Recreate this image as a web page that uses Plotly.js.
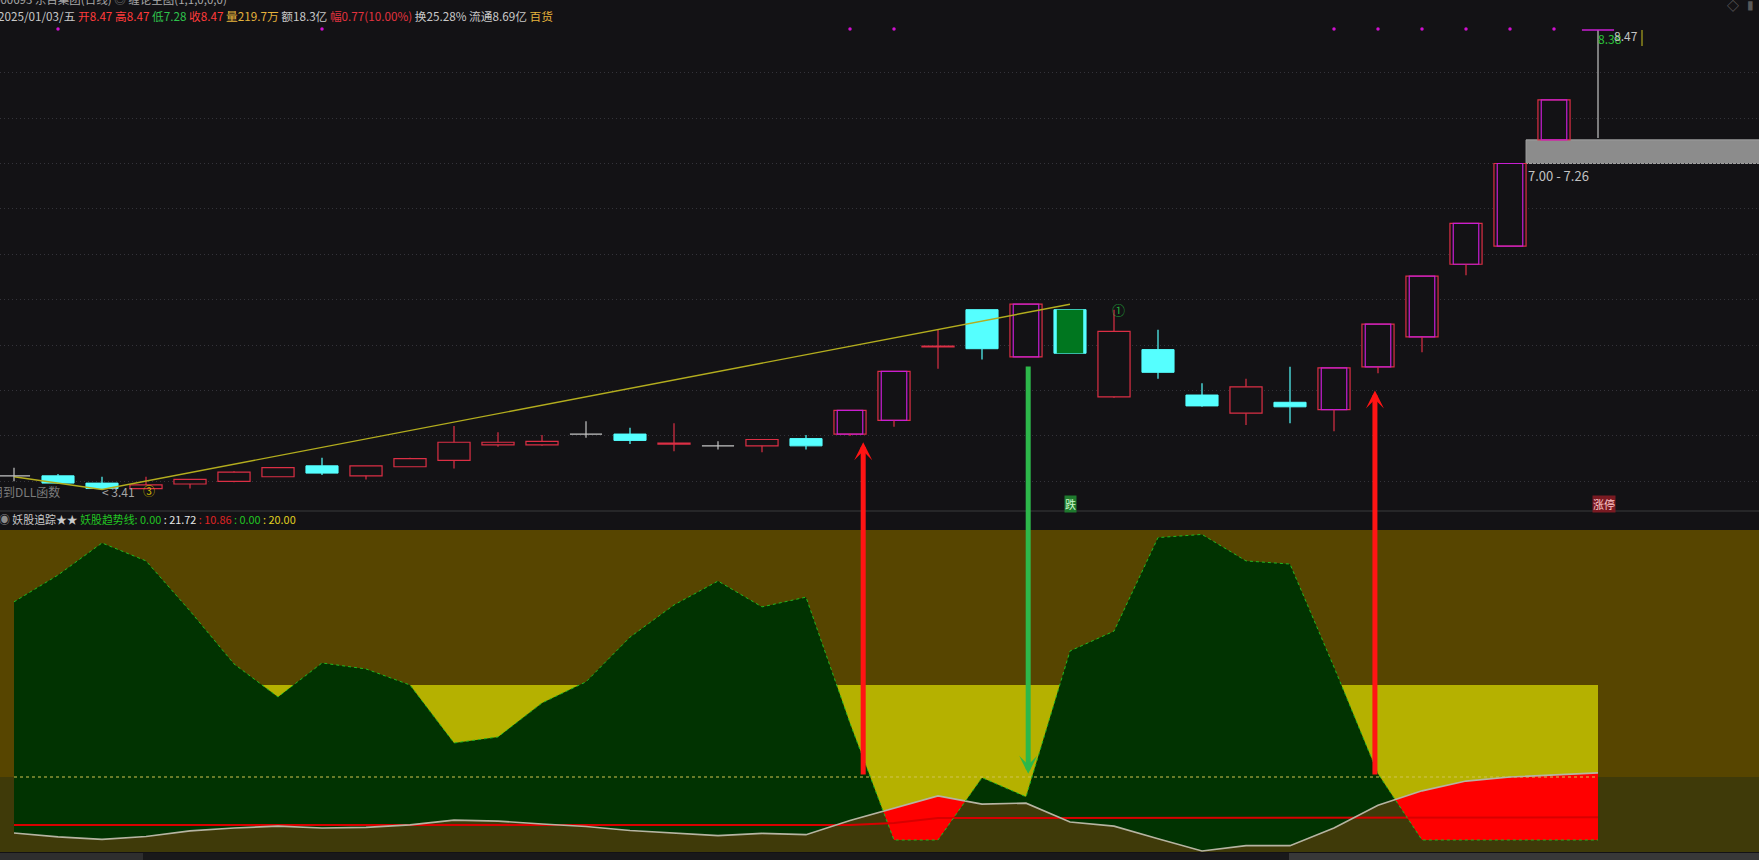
<!DOCTYPE html>
<html><head><meta charset="utf-8">
<script src="https://cdn.plot.ly/plotly-3.0.1.min.js"></script>
<style>html,body{margin:0;padding:0;background:#131215;overflow:hidden}#chart{width:1759px;height:860px}</style>
</head><body><div id="chart"></div>
<script>
// ---------- price panel data ----------
const candleIndex = [1,2,3,4,5,6,7,8,9,10,11,12,13,14,15,16,17,18,19,20,21,22,23,24,25,26,27,28,29,30,31,32,33,34,35,36,37];
const openPrices  = [3.56,3.56,3.48,3.42,3.47,3.50,3.55,3.67,3.56,3.66,3.73,3.90,3.90,4.02,4.02,3.91,3.89,3.89,3.97,4.02,4.17,4.98,5.39,4.87,5.39,4.43,4.95,4.45,4.25,4.37,4.29,4.76,5.09,5.89,6.09,7.26,8.47];
const highPrices  = [3.65,3.58,3.55,3.55,3.52,3.61,3.65,3.76,3.67,3.76,4.11,4.04,4.01,4.16,4.09,4.14,3.94,3.96,4.01,4.28,4.71,5.17,5.39,5.45,5.39,5.39,5.17,4.58,4.63,4.76,4.75,5.23,5.76,6.34,7.00,7.70,8.47];
const lowPrices   = [3.50,3.47,3.41,3.42,3.42,3.49,3.55,3.57,3.52,3.66,3.64,3.88,3.89,3.98,3.91,3.83,3.85,3.82,3.85,4.00,4.10,4.74,4.84,4.87,4.91,4.42,4.63,4.32,4.12,4.14,4.05,4.69,4.92,5.77,6.09,7.26,7.28];
const closePrices = [3.56,3.48,3.42,3.46,3.52,3.60,3.65,3.59,3.67,3.75,3.93,3.93,3.94,4.02,3.95,3.92,3.89,3.96,3.89,4.28,4.71,4.99,4.96,5.45,4.91,5.15,4.70,4.33,4.54,4.32,4.75,5.23,5.76,6.34,7.00,7.70,8.47];
const limitUpIdx   = [20,21,24,31,32,33,34,35,36,37];
const limitDownIdx = [25];
const markerDotIdx = [2,8,20,21,31,32,33,34,35,36];
const markerDotPrice = 8.48;
const trendX = [1,3,25];
const trendY = [3.55,3.41,5.45];
const gridPrices = [3.5,4.0,4.5,5.0,5.5,6.0,6.5,7.0,7.5,8.0];
const gapRange = [7.00,7.26];
const gapFromIdx = 35;
const lowLabel = {idx:3, price:3.41, text:'< 3.41'};

// ---------- indicator panel data ----------
const trendLineVals = [75.6,84.1,94.3,88.6,72.7,55.9,45.4,56.2,54.3,49.2,30.8,32.7,43.5,50.2,64.4,74.6,82.2,74.0,77.1,37.1,0,0,19.8,13.7,60.0,66.3,96.0,97.0,88.6,87.6,54.9,21.0,0,0,0,0,0];
const grayLineVals  = [2.2,1.0,0.2,1.1,2.9,3.8,4.4,3.8,4.0,4.8,6.3,6.0,5.1,4.3,3.0,2.2,1.4,2.1,1.7,6.2,10.2,14.0,11.4,11.7,5.7,4.4,0.4,-3.5,-1.8,-1.8,3.8,11.0,15.6,18.7,20.0,20.6,21.3];
const redLineVals   = [4.8,4.8,4.8,4.8,4.8,4.8,4.8,4.8,4.8,4.8,4.8,4.8,4.8,4.8,4.8,4.8,4.8,4.8,4.8,4.8,5.4,7.0,7.0,7.0,7.0,7.0,7.0,7.0,7.0,7.0,7.0,7.2,7.2,7.2,7.2,7.2,7.2];
const bandTop = 49.2;
const crossLevel = 20;
const signals = [
  {x:20.30, price:3.93, level:20.3, dir:'up'},
  {x:24.05, price:4.78, level:21.0, dir:'down'},
  {x:31.93, price:4.50, level:20.3, dir:'up'}
];

// ---------- styles ----------
const W = 1759, H = 860;
const BG = '#131215';
const UP_RED = '#dc2f45', CYAN = '#55ffff', FLAT = '#c4c4c4', MAGENTA = '#c81ed2', LD_GREEN = '#00761f';
const BODY_W = 0.73, INNER_W = 0.58;
const FONT = 'Noto Sans CJK SC, sans-serif';
const N = candleIndex.length;

const upperDomain = [1 - 511/H, 1];
const lowerDomain = [1 - 852/H, 1 - 530/H];
const xRange = [0.6818, 40.659];
const yRange = [3.1727, 8.8004];
const y2Range = [-3.81, 98.41];

function kind(i){ return closePrices[i] > openPrices[i] ? 'up' : (closePrices[i] < openPrices[i] ? 'down' : 'flat'); }
const isLU = i => limitUpIdx.indexOf(candleIndex[i]) >= 0;
const isLD = i => limitDownIdx.indexOf(candleIndex[i]) >= 0;

function bodyBars(filt, width, fill, lineColor, lw){
  const x=[], base=[], h=[];
  for(let i=0;i<N;i++){
    if(!filt(i)) continue;
    const lo=Math.min(openPrices[i],closePrices[i]), hi=Math.max(openPrices[i],closePrices[i]);
    if(hi===lo) continue;
    x.push(candleIndex[i]); base.push(lo); h.push(hi-lo);
  }
  return {type:'bar', x:x, y:h, base:base, width:width, marker:{color:fill, line:{color:lineColor, width:lw}}, xaxis:'x', yaxis:'y', hoverinfo:'skip'};
}
function wicks(filt, color){
  const x=[], y=[];
  for(let i=0;i<N;i++){
    if(!filt(i)) continue;
    const lo=Math.min(openPrices[i],closePrices[i]), hi=Math.max(openPrices[i],closePrices[i]);
    if(highPrices[i]>hi){ x.push(candleIndex[i],candleIndex[i],null); y.push(highPrices[i],hi,null); }
    if(lowPrices[i]<lo){ x.push(candleIndex[i],candleIndex[i],null); y.push(lo,lowPrices[i],null); }
  }
  return {type:'scatter', mode:'lines', x:x, y:y, line:{color:color, width:1.2}, connectgaps:false, xaxis:'x', yaxis:'y', hoverinfo:'skip'};
}
function flatTicks(filt, color, width, lw){
  const x=[], y=[];
  for(let i=0;i<N;i++){
    if(!filt(i) || openPrices[i]!==closePrices[i]) continue;
    x.push(candleIndex[i]-width/2, candleIndex[i]+width/2, null); y.push(openPrices[i], openPrices[i], null);
  }
  return {type:'scatter', mode:'lines', x:x, y:y, line:{color:color, width:lw}, connectgaps:false, xaxis:'x', yaxis:'y', hoverinfo:'skip'};
}
function withCrossings(xs, a, b){
  const X=[], A=[], B=[];
  for(let i=0;i<xs.length;i++){
    X.push(xs[i]); A.push(a[i]); B.push(b[i]);
    if(i<xs.length-1){
      const d0=a[i]-b[i], d1=a[i+1]-b[i+1];
      if(d0*d1<0){
        const t=d0/(d0-d1);
        const v=a[i]+t*(a[i+1]-a[i]);
        X.push(xs[i]+t*(xs[i+1]-xs[i])); A.push(v); B.push(v);
      }
    }
  }
  return {X:X, A:A, B:B};
}

const traces = [];
// candles
traces.push(wicks(i=>kind(i)==='up', UP_RED));
traces.push(wicks(i=>kind(i)==='down', CYAN));
traces.push(wicks(i=>kind(i)==='flat', FLAT));
traces.push(bodyBars(i=>kind(i)==='down', BODY_W, CYAN, CYAN, 1));
traces.push(bodyBars(i=>isLD(i), 0.6, LD_GREEN, LD_GREEN, 0));
traces.push({type:'scatter', mode:'lines', x:trendX, y:trendY, line:{color:'#b3ad1e', width:1.4}, xaxis:'x', yaxis:'y', hoverinfo:'skip'});
traces.push(bodyBars(i=>kind(i)==='up', BODY_W, BG, UP_RED, 1.2));
traces.push(bodyBars(i=>kind(i)==='up' && isLU(i), INNER_W, 'rgba(0,0,0,0)', MAGENTA, 1.2));
traces.push(flatTicks(i=>kind(i)==='flat' && !isLU(i), FLAT, BODY_W, 1.3));
traces.push(flatTicks(i=>isLU(i), MAGENTA, BODY_W, 1.5));
traces.push({type:'scatter', mode:'markers', x:markerDotIdx, y:markerDotIdx.map(()=>markerDotPrice), marker:{color:'#d010d0', size:3.5}, xaxis:'x', yaxis:'y', hoverinfo:'skip'});

// indicator panel
const lastX = candleIndex[N-1], firstX = candleIndex[0];
traces.push({type:'scatter', mode:'lines', x:[firstX,lastX], y:[bandTop,bandTop], line:{width:0, color:'#b5b100'}, xaxis:'x', yaxis:'y2', hoverinfo:'skip'});
traces.push({type:'scatter', mode:'lines', x:candleIndex, y:grayLineVals, fill:'tonexty', fillcolor:'#b5b100', line:{width:0, color:'#b5b100'}, xaxis:'x', yaxis:'y2', hoverinfo:'skip'});
const cx = withCrossings(candleIndex, trendLineVals, grayLineVals);
const upper = cx.A.map((v,k)=>Math.max(v, cx.B[k]));
traces.push({type:'scatter', mode:'lines', x:cx.X, y:cx.B, line:{width:0, color:'#013301'}, xaxis:'x', yaxis:'y2', hoverinfo:'skip'});
traces.push({type:'scatter', mode:'lines', x:cx.X, y:upper, fill:'tonexty', fillcolor:'#013301', line:{width:0, color:'#013301'}, xaxis:'x', yaxis:'y2', hoverinfo:'skip'});
traces.push({type:'scatter', mode:'lines', x:cx.X, y:cx.A, line:{width:0, color:'#ff0000'}, xaxis:'x', yaxis:'y2', hoverinfo:'skip'});
traces.push({type:'scatter', mode:'lines', x:cx.X, y:upper, fill:'tonexty', fillcolor:'#ff0000', line:{width:0, color:'#ff0000'}, xaxis:'x', yaxis:'y2', hoverinfo:'skip'});
traces.push({type:'scatter', mode:'lines', x:candleIndex, y:redLineVals, line:{color:'#d80000', width:2}, xaxis:'x', yaxis:'y2', hoverinfo:'skip'});
traces.push({type:'scatter', mode:'lines', x:[firstX,lastX], y:[crossLevel,crossLevel], line:{color:'#d2c452', width:1, dash:'dot'}, xaxis:'x', yaxis:'y2', hoverinfo:'skip'});
traces.push({type:'scatter', mode:'lines', x:candleIndex, y:grayLineVals, line:{color:'#b6b4a2', width:1.6}, xaxis:'x', yaxis:'y2', hoverinfo:'skip'});
traces.push({type:'scatter', mode:'lines', x:candleIndex, y:trendLineVals, line:{color:'#1fb81f', width:1, dash:'dot'}, xaxis:'x', yaxis:'y2', hoverinfo:'skip'});

// ---------- texts ----------
function spans(parts){ return parts.map(p=>'<span style="color:'+p[1]+'">'+p[0]+'</span>').join(''); }
const headerParts = [
  ['2025/01/03/五 ','#c8c8c8'],['开8.47 ','#ff3b3b'],['高8.47 ','#ff3b3b'],['低7.28 ','#2ec24c'],['收8.47 ','#ff3b3b'],
  ['量219.7万 ','#e5b33c'],['额18.3亿 ','#c8c8c8'],['幅0.77(10.00%) ','#e2323f'],['换25.28% ','#c8c8c8'],['流通8.69亿 ','#c8c8c8'],['百货','#e5b33c']
];
const titleParts = [['600693 东百集团(日线) ','#a8a8a8'],['◎ ','#8a8a8a'],['缠论主图(1,1,0,0,0)','#a8a8a8']];
const legendParts = [
  ['◉ ','#8c8c8c'],['妖股追踪★★ ','#c8c8c8'],['妖股趋势线: 0.00','#22c422'],[' : 21.72','#e6e6e6'],
  [' : 10.86','#e02424'],[' : 0.00','#22c422'],[' : 20.00','#e0d020']
];
const py = px => 1 - px/H;
const annotations = [
  {xref:'paper', yref:'paper', x:-8/W, y:py(-1), xanchor:'left', yanchor:'middle', text:spans(titleParts), showarrow:false, font:{family:FONT, size:11.5}},
  {xref:'paper', yref:'paper', x:-4/W, y:py(15.5), xanchor:'left', yanchor:'middle', text:spans(headerParts), showarrow:false, font:{family:FONT, size:11.7}},
  {xref:'paper', yref:'paper', x:-3/W, y:py(519), xanchor:'left', yanchor:'middle', text:spans(legendParts), showarrow:false, font:{family:FONT, size:10.9}},
  {xref:'paper', yref:'paper', x:62/W, y:py(492), xanchor:'right', yanchor:'middle', text:'用到DLL函数', showarrow:false, font:{family:FONT, size:12, color:'#7c7c7c'}},
  {xref:'x', yref:'y', x:lowLabel.idx-0.05, y:lowLabel.price, xanchor:'left', yanchor:'middle', yshift:-2, text:lowLabel.text, showarrow:false, font:{family:FONT, size:12, color:'#a6a6a6'}},
  {xref:'x', yref:'y', x:4.07, y:lowLabel.price, xanchor:'center', yanchor:'middle', yshift:-1, text:'③', showarrow:false, font:{family:FONT, size:12, color:'#cdb800'}},
  {xref:'x', yref:'y', x:26.1, y:highPrices[25], xanchor:'center', yanchor:'middle', text:'①', showarrow:false, font:{family:FONT, size:13, color:'#22a83a'}},
  {xref:'x', yref:'y', x:gapFromIdx+BODY_W/2, y:gapRange[0], xanchor:'left', yanchor:'top', yshift:-1, text:gapRange[0].toFixed(2)+' - '+gapRange[1].toFixed(2), showarrow:false, font:{family:FONT, size:13, color:'#c2c2c2'}},
  {xref:'x', yref:'y', x:36.95, y:8.38, xanchor:'left', yanchor:'middle', text:'8.38', showarrow:false, font:{family:FONT, size:12, color:'#2cc23a'}},
  {xref:'x', yref:'y', x:37.32, y:8.47, xanchor:'left', yanchor:'middle', yshift:-5, text:'8.47', showarrow:false, font:{family:FONT, size:12, color:'#c4c4c4'}},
  {xref:'x', yref:'paper', x:25, y:py(504), xanchor:'center', yanchor:'middle', text:'跌', showarrow:false, bgcolor:'#1f7a2e', borderpad:0, font:{family:FONT, size:11, color:'#c8f5c8'}},
  {xref:'x', yref:'paper', x:37.14, y:py(504), xanchor:'center', yanchor:'middle', text:'涨停', showarrow:false, bgcolor:'#7a1a22', borderpad:0, font:{family:FONT, size:11, color:'#ffc8c8'}},
  {xref:'paper', yref:'paper', x:1733/W, y:py(5), xanchor:'center', yanchor:'middle', text:'◇', showarrow:false, font:{family:FONT, size:12, color:'#6a6a6a'}},
  {xref:'paper', yref:'paper', x:1750/W, y:py(4), xanchor:'center', yanchor:'middle', text:'▮', showarrow:false, font:{family:FONT, size:12, color:'#5a5a5a'}}
];

const shapes = [
  // indicator panel background bands
  {type:'rect', xref:'paper', yref:'y2', x0:0, x1:1, y0:crossLevel, y1:y2Range[1], fillcolor:'#574500', line:{width:0}, layer:'below'},
  {type:'rect', xref:'paper', yref:'y2', x0:0, x1:1, y0:y2Range[0], y1:crossLevel, fillcolor:'#3f3a09', line:{width:0}, layer:'below'},
  // gap box
  {type:'rect', xref:'x', yref:'y', x0:gapFromIdx+BODY_W/2, x1:xRange[1]+1, y0:gapRange[0], y1:gapRange[1], fillcolor:'#8c8c8c', line:{color:'#a2a2a2', width:1}, layer:'below'},
  // panel separator
  {type:'line', xref:'paper', yref:'paper', x0:0, x1:1, y0:py(511), y1:py(511), line:{color:'#3a3a3c', width:1}},
  // bottom status strip
  {type:'rect', xref:'paper', yref:'paper', x0:0, x1:143/W, y0:0, y1:py(853), fillcolor:'#2e2e2e', line:{width:0}},
  {type:'rect', xref:'paper', yref:'paper', x0:143/W, x1:1289/W, y0:0, y1:py(853), fillcolor:'#19191a', line:{width:0}},
  {type:'rect', xref:'paper', yref:'paper', x0:1289/W, x1:1, y0:0, y1:py(853), fillcolor:'#383838', line:{width:0}},
  // price-axis tick mark at top right
  {type:'line', xref:'paper', yref:'paper', x0:1642/W, x1:1642/W, y0:py(30), y1:py(46), line:{color:'#c8c020', width:1}}
];

const layout = {
  width:W, height:H, margin:{l:0,r:0,t:0,b:0},
  paper_bgcolor:BG, plot_bgcolor:BG, showlegend:false, hovermode:false,
  barmode:'overlay',
  xaxis:{range:xRange, showgrid:false, zeroline:false, showticklabels:false, ticks:'', showline:false, anchor:'y', fixedrange:true},
  yaxis:{domain:upperDomain, range:yRange, tickvals:gridPrices, showgrid:true, gridcolor:'#34333a', griddash:'1px,3px', gridwidth:1, zeroline:false, showticklabels:false, ticks:'', showline:false, fixedrange:true},
  yaxis2:{domain:lowerDomain, range:y2Range, showgrid:false, zeroline:false, showticklabels:false, ticks:'', showline:false, anchor:'x', fixedrange:true},
  annotations:annotations, shapes:shapes
};

const gd = document.getElementById('chart');
Plotly.newPlot(gd, traces, layout, {staticPlot:true, displayModeBar:false}).then(function(){
  const fl = gd._fullLayout, ya = fl.yaxis, ya2 = fl.yaxis2;
  const pY = v => ya._offset + ya.l2p(v);
  const pY2 = v => ya2._offset + ya2.l2p(v);
  const arrows = signals.map(function(s){
    const col = s.dir==='up' ? '#ff1414' : '#2db84a';
    const base = {xref:'x', x:s.x, ax:0, axref:'pixel', ayref:'pixel', showarrow:true, arrowhead:3, arrowsize:0.6, arrowwidth:5, arrowcolor:col, text:''};
    if(s.dir==='up') return Object.assign(base, {yref:'y', y:s.price, ay:pY2(s.level)-pY(s.price)});
    return Object.assign(base, {yref:'y2', y:s.level, ay:pY(s.price)-pY2(s.level)});
  });
  return Plotly.relayout(gd, {annotations: annotations.concat(arrows)});
});
</script>
</body></html>
